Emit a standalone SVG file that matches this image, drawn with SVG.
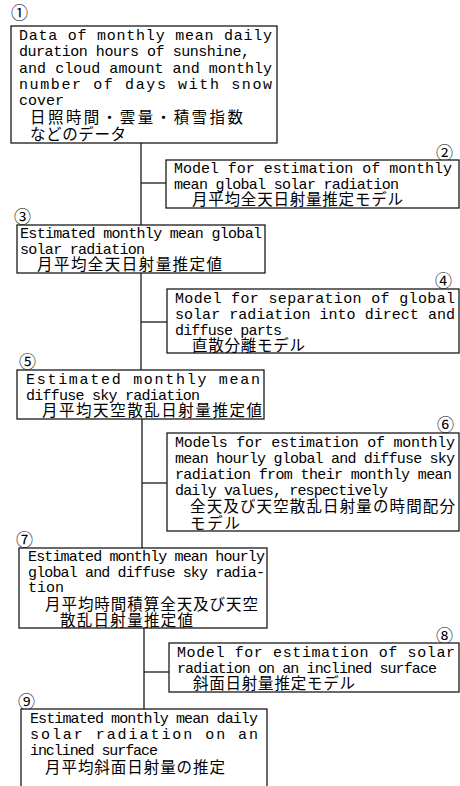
<svg xmlns="http://www.w3.org/2000/svg" width="460" height="786" viewBox="0 0 460 786">
<style>
.box{fill:#fff;stroke:#1a1a1a;stroke-width:1.3}
.c{stroke:#1a1a1a;stroke-width:1.3;fill:none}
.e{font-family:"Liberation Mono","DejaVu Sans Mono",monospace;font-size:15px;fill:#000}
.j{font-family:"Noto Sans CJK JP","Noto Sans CJK SC",sans-serif;font-size:15.5px;fill:#000}
.n{font-family:"Noto Sans CJK JP","DejaVu Sans",sans-serif;font-size:17px;fill:#000}
</style>
<rect width="460" height="786" fill="#fff"/>
<g id="connectors">
<line class="c" x1="141" y1="143" x2="141" y2="225"/>
<line class="c" x1="141" y1="183" x2="166" y2="183"/>
<line class="c" x1="141" y1="273" x2="141" y2="370"/>
<line class="c" x1="141" y1="322" x2="167" y2="322"/>
<line class="c" x1="142" y1="419" x2="142" y2="548"/>
<line class="c" x1="142" y1="483" x2="167" y2="483"/>
<line class="c" x1="144" y1="628" x2="144" y2="709"/>
<line class="c" x1="144" y1="672" x2="169" y2="672"/>
</g>
<g id="node1">
<text class="n" x="11" y="19">①</text>
<rect class="box" x="11" y="26" width="266" height="117"/>
<text class="e" x="19" y="40" textLength="253" lengthAdjust="spacing">Data of monthly mean daily</text>
<text class="e" x="19" y="56" textLength="231" lengthAdjust="spacing">duration hours of sunshine,</text>
<text class="e" x="19" y="73" textLength="253" lengthAdjust="spacing">and cloud amount and monthly</text>
<text class="e" x="19" y="89" textLength="253" lengthAdjust="spacing">number of days with snow</text>
<text class="e" x="19" y="105">cover</text>
<text class="j" x="30" y="123" textLength="213" lengthAdjust="spacing">日照時間・雲量・積雪指数</text>
<text class="j" x="30" y="140" textLength="96" lengthAdjust="spacing">などのデータ</text>
</g>
<g id="node2">
<text class="n" x="436" y="159">②</text>
<rect class="box" x="166" y="160" width="293" height="48"/>
<text class="e" x="174" y="173" textLength="278" lengthAdjust="spacing">Model for estimation of monthly</text>
<text class="e" x="174" y="189" textLength="225" lengthAdjust="spacing">mean global solar radiation</text>
<text class="j" x="192" y="205" textLength="211" lengthAdjust="spacing">月平均全天日射量推定モデル</text>
</g>
<g id="node3">
<text class="n" x="14" y="223">③</text>
<rect class="box" x="17" y="225" width="248" height="48"/>
<text class="e" x="20" y="238" textLength="242" lengthAdjust="spacing">Estimated monthly mean global</text>
<text class="e" x="20" y="254" textLength="125" lengthAdjust="spacing">solar radiation</text>
<text class="j" x="37" y="270" textLength="185" lengthAdjust="spacing">月平均全天日射量推定値</text>
</g>
<g id="node4">
<text class="n" x="435" y="287">④</text>
<rect class="box" x="167" y="289" width="292" height="64"/>
<text class="e" x="175" y="303" textLength="280" lengthAdjust="spacing">Model for separation of global</text>
<text class="e" x="175" y="319" textLength="280" lengthAdjust="spacing">solar radiation into direct and</text>
<text class="e" x="175" y="335" textLength="107" lengthAdjust="spacing">diffuse parts</text>
<text class="j" x="192" y="351" textLength="113" lengthAdjust="spacing">直散分離モデル</text>
</g>
<g id="node5">
<text class="n" x="19" y="368">⑤</text>
<rect class="box" x="17" y="370" width="247" height="49"/>
<text class="e" x="26" y="384" textLength="234" lengthAdjust="spacing">Estimated monthly mean</text>
<text class="e" x="26" y="400" textLength="174" lengthAdjust="spacing">diffuse sky radiation</text>
<text class="j" x="42" y="416" textLength="220" lengthAdjust="spacing">月平均天空散乱日射量推定値</text>
</g>
<g id="node6">
<text class="n" x="437" y="431">⑥</text>
<rect class="box" x="167" y="433" width="292" height="98"/>
<text class="e" x="175" y="447" textLength="280" lengthAdjust="spacing">Models for estimation of monthly</text>
<text class="e" x="175" y="463" textLength="280" lengthAdjust="spacing">mean hourly global and diffuse sky</text>
<text class="e" x="175" y="479" textLength="277" lengthAdjust="spacing">radiation from their monthly mean</text>
<text class="e" x="175" y="495" textLength="213" lengthAdjust="spacing">daily values, respectively</text>
<text class="j" x="190" y="512" textLength="265" lengthAdjust="spacing">全天及び天空散乱日射量の時間配分</text>
<text class="j" x="190" y="529" textLength="50" lengthAdjust="spacing">モデル</text>
</g>
<g id="node7">
<text class="n" x="16" y="546">⑦</text>
<rect class="box" x="19" y="548" width="248" height="80"/>
<text class="e" x="28" y="561" textLength="237" lengthAdjust="spacing">Estimated monthly mean hourly</text>
<text class="e" x="28" y="577" textLength="237" lengthAdjust="spacing">global and diffuse sky radia-</text>
<text class="e" x="28" y="592">tion</text>
<text class="j" x="45" y="610" textLength="213" lengthAdjust="spacing">月平均時間積算全天及び天空</text>
<text class="j" x="60" y="626" textLength="133" lengthAdjust="spacing">散乱日射量推定値</text>
</g>
<g id="node8">
<text class="n" x="436" y="642">⑧</text>
<rect class="box" x="169" y="643" width="290" height="49"/>
<text class="e" x="177" y="657" textLength="278" lengthAdjust="spacing">Model for estimation of solar</text>
<text class="e" x="177" y="673" textLength="260" lengthAdjust="spacing">radiation on an inclined surface</text>
<text class="j" x="193" y="689" textLength="162" lengthAdjust="spacing">斜面日射量推定モデル</text>
</g>
<g id="node9">
<text class="n" x="18" y="708">⑨</text>
<rect class="box" x="21" y="709" width="246" height="90"/>
<text class="e" x="30" y="723" textLength="228" lengthAdjust="spacing">Estimated monthly mean daily</text>
<text class="e" x="30" y="739" textLength="228" lengthAdjust="spacing">solar radiation on an</text>
<text class="e" x="30" y="755" textLength="128" lengthAdjust="spacing">inclined surface</text>
<text class="j" x="45" y="773" textLength="180" lengthAdjust="spacing">月平均斜面日射量の推定</text>
</g>
</svg>
